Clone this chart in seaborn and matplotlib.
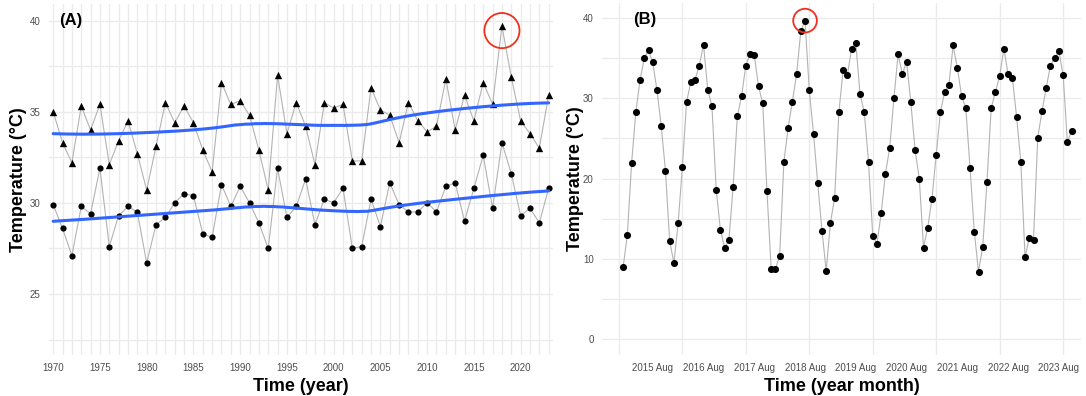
import numpy as np
import pandas as pd
import seaborn as sns
import matplotlib.pyplot as plt

# Data (A): yearly values 1970-2023
years = list(range(1970, 2024))
t_max = [35.0, 33.3, 32.2, 35.3, 34.0, 35.4, 32.1, 33.4, 34.5, 32.7,
         30.7, 33.1, 35.5, 34.4, 35.3, 34.4, 32.9, 31.7, 36.6, 35.4,
         35.6, 34.8, 32.9, 30.7, 37.0, 33.8, 35.5, 34.2, 32.1, 35.5,
         35.2, 35.4, 32.3, 32.3, 36.3, 35.1, 34.8, 33.3, 35.5, 34.5,
         33.9, 34.2, 36.8, 34.0, 35.9, 34.5, 36.6, 35.4, 39.7, 36.9,
         34.5, 33.8, 33.0, 35.9]
t_mean = [29.9, 28.6, 27.1, 29.8, 29.4, 31.9, 27.6, 29.3, 29.8, 29.5,
          26.7, 28.8, 29.2, 30.0, 30.5, 30.4, 28.3, 28.1, 31.0, 29.8,
          30.9, 30.0, 28.9, 27.5, 31.9, 29.2, 29.8, 31.3, 28.8, 30.2,
          30.0, 30.8, 27.5, 27.6, 30.2, 28.7, 31.1, 29.9, 29.5, 29.5,
          30.0, 29.5, 30.9, 31.1, 29.0, 30.8, 32.6, 29.7, 33.3, 31.6,
          29.3, 29.7, 28.9, 30.8]

# Data (B): monthly values Jan 2015 - Nov 2023
monthly = [8.95, 13.0, 21.9, 28.3, 32.3, 35.0, 36.0, 34.5, 31.0, 26.6, 21.0, 12.2,
           9.5, 14.4, 21.4, 29.6, 32.0, 32.3, 34.1, 36.7, 31.1, 29.0, 18.6, 13.6,
           11.4, 12.3, 19.0, 27.8, 30.3, 34.1, 35.5, 35.4, 31.5, 29.4, 18.4, 8.7,
           8.7, 10.4, 22.1, 26.3, 29.6, 33.0, 38.4, 39.7, 31.0, 25.6, 19.4, 13.5,
           8.5, 14.5, 17.6, 28.3, 33.5, 32.9, 36.2, 36.9, 30.5, 28.3, 22.1, 12.9,
           11.9, 15.7, 20.6, 23.8, 30.0, 35.5, 33.0, 34.6, 29.5, 23.6, 20.0, 11.4,
           13.9, 17.5, 23.0, 28.3, 30.8, 31.7, 36.6, 33.8, 30.3, 28.8, 21.3, 13.4,
           8.4, 11.5, 19.6, 28.8, 30.8, 32.8, 36.2, 33.0, 32.6, 27.7, 22.1, 10.2,
           12.6, 12.4, 25.1, 28.4, 31.3, 34.1, 35.0, 35.9, 32.9, 24.6, 25.9]
month_labels = ['2015 Aug', '2016 Aug', '2017 Aug', '2018 Aug', '2019 Aug',
                '2020 Aug', '2021 Aug', '2022 Aug', '2023 Aug']


def loess(x, y, span=0.75, grid=None):
    # local quadratic fit with tricube weights (like R loess defaults)
    x = np.asarray(x, float)
    y = np.asarray(y, float)
    q = int(np.floor(len(x) * span))
    out = []
    for x0 in grid:
        d = np.abs(x - x0)
        h = np.sort(d)[q - 1]
        w = np.clip(1 - (d / h) ** 3, 0, None) ** 3
        c = np.polyfit(x - x0, y, 2, w=np.sqrt(w))
        out.append(c[-1])
    return np.array(out)


sns.set_style("white")
plt.rcParams['font.family'] = ['Liberation Sans Narrow', 'Liberation Sans', 'DejaVu Sans']
plt.rcParams['text.color'] = 'black'
plt.rcParams['axes.labelcolor'] = 'black'

df_a = pd.DataFrame({'year': years, 'tmax': t_max, 'tmean': t_mean})
df_b = pd.DataFrame({'idx': range(len(monthly)), 'temp': monthly})

fig = plt.figure(figsize=(10.86, 3.96), dpi=100)
ax1 = fig.add_axes([0.0451, 0.1035, 0.464, 0.886])
ax2 = fig.add_axes([0.5543, 0.1035, 0.441, 0.889])

grid_kw = dict(color='#EBEBEB', linewidth=1.0)
line_col = '#B3B3B3'
blue = '#3366FF'

# ---- panel A ----
for col, mk, sz in [('tmax', '^', 28), ('tmean', 'o', 20)]:
    sns.lineplot(data=df_a, x='year', y=col, ax=ax1, color=line_col, linewidth=0.8, zorder=2)
    sns.scatterplot(data=df_a, x='year', y=col, ax=ax1, marker=mk, color='black',
                    s=sz, linewidth=0, zorder=3)
    xs = np.linspace(min(years), max(years), 200)
    ax1.plot(xs, loess(df_a['year'], df_a[col], grid=xs), color=blue, linewidth=2.2, zorder=4)

imax = int(np.argmax(t_max))
ax1.scatter([years[imax]], [t_max[imax] - 0.25], s=640, facecolors='none',
            edgecolors='#F0301E', linewidths=1.3, zorder=5)

ax1.set_xlim(1969.55, 2023.45)
ax1.set_ylim(21.65, 40.9)
ax1.set_xticks(range(1970, 2021, 5))
ax1.set_xticks(years, minor=True)
ax1.set_yticks([25, 30, 35, 40])
ax1.set_yticks([22.5, 27.5, 32.5, 37.5], minor=True)
ax1.grid(which='both', **grid_kw)
ax1.text(0.02, 0.975, '(A)', transform=ax1.transAxes, fontsize=12,
         fontweight='bold', va='top', ha='left')
ax1.set_xlabel('Time (year)', fontsize=13, fontweight='bold', labelpad=3)
ax1.set_ylabel('Temperature (°C)', fontsize=13, fontweight='bold', labelpad=2)

# ---- panel B ----
sns.lineplot(data=df_b, x='idx', y='temp', ax=ax2, color=line_col, linewidth=0.8, zorder=2)
sns.scatterplot(data=df_b, x='idx', y='temp', ax=ax2, marker='o', color='black',
                s=26, linewidth=0, zorder=3)
jmax = int(np.argmax(monthly))
ax2.scatter([jmax], [monthly[jmax]], s=290, facecolors='none',
            edgecolors='#F0301E', linewidths=1.3, zorder=5)

ax2.set_xlim(-5, 108.2)
ax2.set_ylim(-2.0, 41.9)
ax2.set_xticks(range(7, len(monthly), 12))
ax2.set_xticklabels(month_labels)
ax2.set_xticks(range(-1, len(monthly), 15), minor=True)
ax2.set_yticks([0, 10, 20, 30, 40])
ax2.set_yticks([5, 15, 25, 35], minor=True)
ax2.xaxis.grid(False, which='major')
ax2.xaxis.grid(True, which='minor', **grid_kw)
ax2.yaxis.grid(True, which='both', **grid_kw)
ax2.text(0.065, 0.975, '(B)', transform=ax2.transAxes, fontsize=12,
         fontweight='bold', va='top', ha='left')
ax2.set_xlabel('Time (year month)', fontsize=13, fontweight='bold', labelpad=3)
ax2.set_ylabel('Temperature (°C)', fontsize=13, fontweight='bold', labelpad=-1)

for ax in (ax1, ax2):
    sns.despine(ax=ax, left=True, bottom=True)
    ax.tick_params(which='both', length=0, labelsize=7, labelcolor='#4D4D4D', pad=6)

fig.savefig('out.png', dpi=100)
